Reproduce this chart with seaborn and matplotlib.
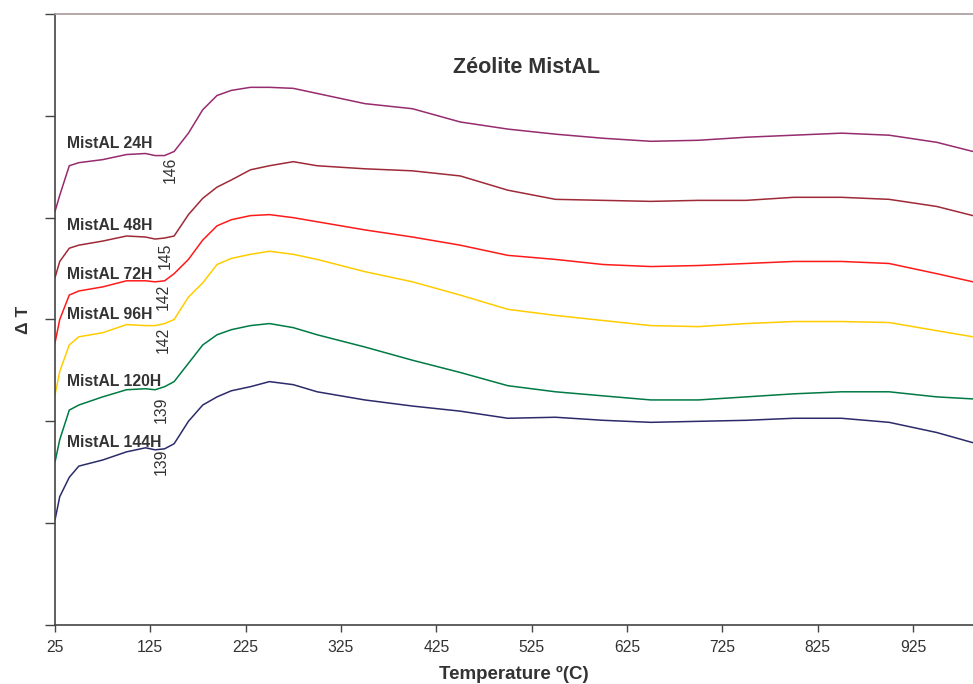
import pandas as pd
import matplotlib
matplotlib.use('Agg')
import matplotlib.pyplot as plt
import seaborn as sns

# Temperature grid (ºC) shared by all DTA curves
temperature = [25, 30, 40, 50, 75, 100, 120, 130, 140, 150, 165, 180, 195, 210,
               230, 250, 275, 300, 350, 400, 450, 500, 550, 600, 650, 700, 750,
               800, 850, 900, 950, 988]

# Delta T readings (arbitrary units, axis 0..6)
dt_24h = [4.06, 4.22, 4.51, 4.54, 4.57, 4.62, 4.63, 4.61, 4.61, 4.65, 4.83, 5.06,
          5.20, 5.25, 5.28, 5.28, 5.27, 5.22, 5.12, 5.07, 4.94, 4.87, 4.82, 4.78,
          4.75, 4.76, 4.79, 4.81, 4.83, 4.81, 4.74, 4.65]
dt_48h = [3.41, 3.57, 3.70, 3.73, 3.77, 3.82, 3.81, 3.79, 3.80, 3.82, 4.03, 4.19,
          4.30, 4.37, 4.47, 4.51, 4.55, 4.51, 4.48, 4.46, 4.41, 4.27, 4.18, 4.17,
          4.16, 4.17, 4.17, 4.20, 4.20, 4.18, 4.11, 4.02]
dt_72h = [2.77, 3.00, 3.24, 3.28, 3.32, 3.38, 3.38, 3.37, 3.38, 3.45, 3.59, 3.78,
          3.92, 3.98, 4.02, 4.03, 4.00, 3.96, 3.88, 3.81, 3.73, 3.63, 3.59, 3.54,
          3.52, 3.53, 3.55, 3.57, 3.57, 3.55, 3.45, 3.37]
dt_96h = [2.26, 2.49, 2.75, 2.83, 2.87, 2.95, 2.94, 2.94, 2.96, 3.00, 3.22, 3.36,
          3.54, 3.60, 3.64, 3.67, 3.64, 3.59, 3.47, 3.37, 3.24, 3.10, 3.04, 2.99,
          2.94, 2.93, 2.96, 2.98, 2.98, 2.97, 2.89, 2.83]
dt_120h = [1.60, 1.82, 2.11, 2.16, 2.24, 2.31, 2.32, 2.31, 2.34, 2.39, 2.57, 2.75,
           2.85, 2.90, 2.94, 2.96, 2.92, 2.85, 2.73, 2.60, 2.48, 2.35, 2.29, 2.25,
           2.21, 2.21, 2.24, 2.27, 2.29, 2.29, 2.24, 2.22]
dt_144h = [1.03, 1.26, 1.45, 1.56, 1.62, 1.70, 1.74, 1.72, 1.73, 1.78, 2.00, 2.16,
           2.24, 2.30, 2.34, 2.39, 2.36, 2.29, 2.21, 2.15, 2.10, 2.03, 2.04, 2.01,
           1.99, 2.00, 2.01, 2.03, 2.03, 1.99, 1.89, 1.79]

samples = ['MistAL 24H', 'MistAL 48H', 'MistAL 72H', 'MistAL 96H',
           'MistAL 120H', 'MistAL 144H']
onsets = [146, 145, 142, 142, 139, 139]
x_ticks = [25, 125, 225, 325, 425, 525, 625, 725, 825, 925]

colors = ['#962B6E', '#9E2A38', '#FF1A1A', '#FFCC00', '#007A45', '#2B2B6B']

# long-form table for seaborn
curves = [dt_24h, dt_48h, dt_72h, dt_96h, dt_120h, dt_144h]
frames = []
for name, vals in zip(samples, curves):
    frames.append(pd.DataFrame({'T': temperature, 'dT': vals, 'sample': name}))
df = pd.concat(frames, ignore_index=True)

sns.set_style('ticks')
plt.rcParams['font.family'] = ['Liberation Sans', 'DejaVu Sans']

fig = plt.figure(figsize=(9.73, 6.84), dpi=100)
ax = fig.add_axes([0.0565, 0.0863, 0.9435, 0.8932])

sns.lineplot(data=df, x='T', y='dT', hue='sample', palette=colors,
             hue_order=samples, linewidth=1.1, legend=False, ax=ax)

ax.set_xlim(25, 988)
ax.set_ylim(0, 6)
ax.set_xticks(x_ticks)
ax.set_xticklabels([str(t) for t in x_ticks], fontsize=11.3, color='#333333')
ax.set_yticks([0, 1, 2, 3, 4, 5, 6])
ax.set_yticklabels([])
ax.tick_params(axis='x', length=5, width=1, color='#444444', pad=6)
ax.tick_params(axis='y', length=7, width=1, color='#444444')

for side in ['left', 'bottom']:
    ax.spines[side].set_color('#444444')
    ax.spines[side].set_linewidth(1.2)
ax.spines['top'].set_visible(True)
ax.spines['top'].set_color('#A89A9A')
ax.spines['top'].set_linewidth(1.2)
ax.spines['right'].set_visible(False)

ax.set_xlabel('Temperature º(C)', fontsize=13.5, fontweight='bold',
              color='#333333', labelpad=8)
ax.set_ylabel('Δ T', fontsize=12.5, fontweight='bold', color='#333333',
              labelpad=7)

ax.text(0.514, 0.913, 'Zéolite MistAL', transform=ax.transAxes, ha='center',
        va='center', fontsize=15.5, fontweight='bold', color='#333333')

# sample labels and onset temperatures
name_y = [4.73, 3.92, 3.44, 3.05, 2.39, 1.79]
onset_x = [146, 141, 138.5, 138.5, 136.5, 136.5]
onset_y = [4.47, 3.63, 3.22, 2.80, 2.11, 1.60]
for name, ny, on, ox, oy in zip(samples, name_y, onsets, onset_x, onset_y):
    ax.text(37.5, ny, name, ha='left', va='center', fontsize=11.3,
            fontweight='bold', color='#333333')
    ax.text(ox, oy, str(on), ha='center', va='center', rotation=90,
            fontsize=11.3, color='#333333')

fig.savefig('out.png', dpi=100)
